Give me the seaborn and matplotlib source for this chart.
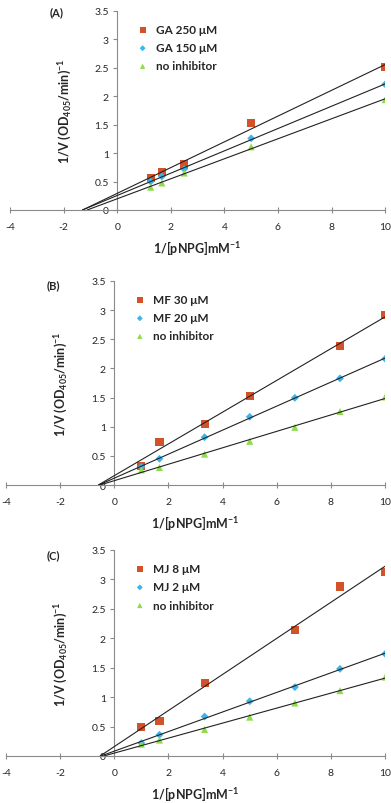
import numpy as np
import pandas as pd
import matplotlib

matplotlib.use("Agg")
import matplotlib.pyplot as plt
import seaborn as sns

sns.set_theme(style="white")
plt.rcParams["font.family"] = ["Lato", "DejaVu Sans"]
plt.rcParams["axes.unicode_minus"] = False
plt.rcParams["mathtext.fontset"] = "custom"
plt.rcParams["mathtext.bf"] = "Lato:bold"
plt.rcParams["mathtext.rm"] = "Lato"
plt.rcParams["mathtext.default"] = "bf"

# panel A: GA
x_a = [1.25, 1.667, 2.5, 5, 10]
ga250 = [0.56, 0.675, 0.80, 1.53, 2.52]
ga150 = [0.50, 0.59, 0.72, 1.26, 2.21]
none_a = [0.40, 0.475, 0.65, 1.11, 1.94]

# panel B: MF
x_b = [1, 1.667, 3.333, 5, 6.667, 8.333, 10]
x_b_sq = [1, 1.667, 3.333, 5, 8.333, 10]
mf30 = [0.33, 0.745, 1.05, 1.53, 2.39, 2.91]
mf20 = [0.31, 0.45, 0.82, 1.17, 1.495, 1.83, 2.165]
none_b = [0.26, 0.30, 0.53, 0.75, 0.99, 1.26, 1.51]

# panel C: MJ
x_c = [1, 1.667, 3.333, 5, 6.667, 8.333, 10]
x_c_sq = [1, 1.667, 3.333, 6.667, 8.333, 10]
mj8 = [0.49, 0.59, 1.24, 2.14, 2.88, 3.12]
mj2 = [0.22, 0.36, 0.67, 0.93, 1.17, 1.48, 1.735]
none_c = [0.20, 0.27, 0.45, 0.66, 0.90, 1.11, 1.34]

panels = [
    ("(A)", [("GA 250 μM", x_a, ga250), ("GA 150 μM", x_a, ga150), ("no inhibitor", x_a, none_a)]),
    ("(B)", [("MF 30 μM", x_b_sq, mf30), ("MF 20 μM", x_b, mf20), ("no inhibitor", x_b, none_b)]),
    ("(C)", [("MJ 8 μM", x_c_sq, mj8), ("MJ 2 μM", x_c, mj2), ("no inhibitor", x_c, none_c)]),
]

colors = ["#D4522A", "#3DB4EA", "#8EDC4A"]
markers = ["s", "D", "^"]
sizes = [34, 16, 26]
grey = "#8a8a8a"

# axes boxes in figure fraction (left, bottom, width, height)
boxes = [
    (0.0256, 0.7376, 0.9594, 0.2475),
    (0.0153, 0.3955, 0.9697, 0.2538),
    (0.0153, 0.0585, 0.9697, 0.2562),
]
label_pos = [(0.128, 0.991), (0.120, 0.651), (0.120, 0.316)]

fig = plt.figure(figsize=(3.91, 8.04), dpi=100)

for (tag, series), box, lp in zip(panels, boxes, label_pos):
    ax = fig.add_axes(box)
    for (name, xs, ys), c, m, s in zip(series, colors, markers, sizes):
        df = pd.DataFrame({"x": xs, "y": ys})
        slope, icpt = np.polyfit(df["x"], df["y"], 1)
        x0 = -icpt / slope
        fit = pd.DataFrame({"x": [x0, 10.0]})
        fit["y"] = slope * fit["x"] + icpt
        sns.lineplot(data=fit, x="x", y="y", ax=ax, color="#222222", lw=0.8, zorder=3)
        sns.scatterplot(data=df, x="x", y="y", ax=ax, color=c, marker=m, s=s,
                        edgecolor="none", label=name, zorder=2)

    ax.set_xlim(-4, 10)
    ax.set_ylim(0, 3.5)
    ax.set_xticks(np.arange(-4, 11, 2))
    ax.set_yticks(np.arange(0, 3.51, 0.5))
    ax.set_yticklabels(["0", "0.5", "1", "1.5", "2", "2.5", "3", "3.5"])
    for side in ["top", "right"]:
        ax.spines[side].set_visible(False)
    ax.spines["left"].set_position(("data", 0))
    for side in ["left", "bottom"]:
        ax.spines[side].set_color(grey)
        ax.spines[side].set_linewidth(0.8)
    ax.tick_params(axis="x", direction="inout", length=5, width=0.8, color=grey,
                   labelsize=7.5, pad=6, bottom=True)
    ax.tick_params(axis="y", direction="out", length=3, width=0.8, color=grey,
                   labelsize=7.5, pad=3, left=True)
    ax.set_xlabel("1/[pNPG]mM$^{-1}$", fontsize=9, fontweight="bold", labelpad=5)
    ax.set_ylabel("1/V (OD$_{405}$/min)$^{-1}$", fontsize=9, fontweight="bold")
    ax.yaxis.set_label_coords(0.17, 0.5)
    ax.legend(loc="upper left", bbox_to_anchor=(0.3, 0.975), frameon=False,
              prop={"weight": "bold", "size": 8.5}, handletextpad=0.1,
              labelspacing=0.6, markerscale=0.75, borderaxespad=0.3)
    fig.text(lp[0], lp[1], tag, fontsize=8, fontweight="bold", ha="left", va="top")

fig.savefig("out.png", dpi=100)
